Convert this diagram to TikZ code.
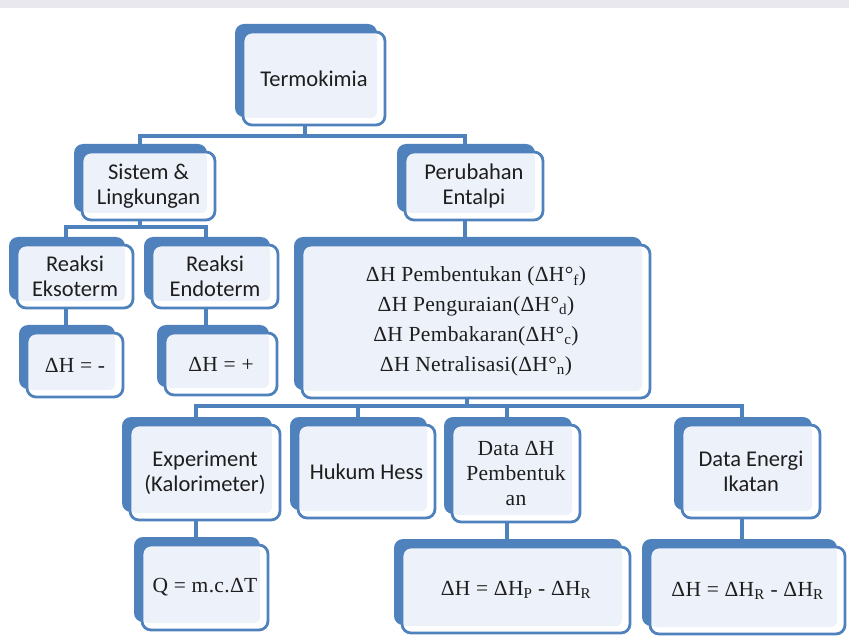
\documentclass[tikz,border=0pt]{standalone}
\usepackage{fontspec}
\newfontfamily\sansf{Carlito}
\newfontfamily\seriff[LetterSpace=1.5]{Liberation Serif}
\usetikzlibrary{shadows,backgrounds}
\definecolor{boxblue}{HTML}{4F81BD}
\definecolor{lightfill}{HTML}{EDF1F9}
\definecolor{textcol}{HTML}{1E1E1E}
\definecolor{topgray}{HTML}{E8E8EE}
\tikzset{
  tbox/.style={draw=boxblue, line width=2.8pt, rounded corners=9pt, fill=white,
    inner sep=0pt, align=center, text=textcol,
    general shadow={fill=boxblue, shadow xshift=-8pt, shadow yshift=8pt},
    path picture={\fill[lightfill, rounded corners=6pt]
      (path picture bounding box.north west) rectangle
      ([shift={(-8pt,7pt)}]path picture bounding box.south east);}},
  sanstxt/.style={font=\sansf\fontsize{22.5}{25}\selectfont},
  seriftxt/.style={font=\seriff\fontsize{21.5}{30}\selectfont},
  link/.style={draw=boxblue, line width=4pt},
}
\begin{document}
\begin{tikzpicture}[x=1pt,y=-1pt]
\useasboundingbox (0,0) rectangle (849,636);

\node[tbox, sanstxt, minimum width=142pt, minimum height=93pt] (term) at (314,78.5) {Termokimia};
\node[tbox, sanstxt, minimum width=133pt, minimum height=68pt] (sis) at (148.5,186) {Sistem \&\\Lingkungan};
\node[tbox, sanstxt, minimum width=138pt, minimum height=68pt] (per) at (474,186) {Perubahan\\Entalpi};
\node[tbox, sanstxt, minimum width=116pt, minimum height=63pt] (exo) at (75,276.5) {Reaksi\\Eksoterm};
\node[tbox, sanstxt, minimum width=126pt, minimum height=63pt] (endo) at (215,276.5) {Reaksi\\Endoterm};
\node[tbox, seriftxt, minimum width=96pt, minimum height=64pt] (dhm) at (75,365) {ΔH = -};
\node[tbox, seriftxt, minimum width=112pt, minimum height=62pt] (dhp) at (221,364) {ΔH = +};
\node[tbox, seriftxt, minimum width=348pt, minimum height=153pt] (big) at (476,321.5)
  {ΔH Pembentukan (ΔH°\textsubscript{f})\\ΔH Penguraian(ΔH°\textsubscript{d})\\ΔH Pembakaran(ΔH°\textsubscript{c})\\ΔH Netralisasi(ΔH°\textsubscript{n})};
\node[tbox, sanstxt, minimum width=150pt, minimum height=95pt] (exp) at (205,472.5) {Experiment\\(Kalorimeter)};
\node[tbox, sanstxt, minimum width=137pt, minimum height=93pt] (hess) at (366.5,471.5) {Hukum Hess};
\node[tbox, seriftxt, font=\seriff\fontsize{21.5}{25}\selectfont, minimum width=128pt, minimum height=97pt] (data) at (516,473.5) {Data ΔH\\Pembentuk\\an};
\node[tbox, sanstxt, minimum width=138pt, minimum height=93pt] (ener) at (751,471.5) {Data Energi\\Ikatan};
\node[tbox, seriftxt, minimum width=126pt, minimum height=85pt] (q) at (205,587.5) {Q = m.c.ΔT};
\node[tbox, seriftxt, minimum width=228pt, minimum height=86pt] (r1) at (516,590) {ΔH = ΔH\textsubscript{P} - ΔH\textsubscript{R}};
\node[tbox, seriftxt, minimum width=195pt, minimum height=87pt] (r2) at (747.5,590.5) {ΔH = ΔH\textsubscript{R} - ΔH\textsubscript{R}};

\begin{scope}[on background layer]
\fill[topgray] (0,0) rectangle (849,8);
\draw[link] ([xshift=-9pt]term.south) -- ++(0,12);
\draw[link] ([xshift=-9pt]sis.north) -- ++(0,-15) -| ([xshift=-9pt]per.north);
\draw[link] ([xshift=-9pt]sis.south) -- ++(0,8);
\draw[link] ([xshift=-9pt]exo.north) -- ++(0,-17) -| ([xshift=-9pt]endo.north);
\draw[link] ([xshift=-9pt]per.south) -- ++(0,25);
\draw[link] ([xshift=-9pt]exo.south) -- ([xshift=-9pt]exo.south |- dhm.north);
\draw[link] ([xshift=-9pt]endo.south) -- ([xshift=-9pt]endo.south |- dhp.north);
\draw[link] ([xshift=-9pt]big.south) -- ++(0,9);
\draw[link] ([xshift=-9pt]exp.north) -- ++(0,-18) -| ([xshift=-9pt]ener.north);
\draw[link] ([xshift=-9pt]hess.north) -- ++(0,-18);
\draw[link] ([xshift=-9pt]data.north) -- ++(0,-18);
\draw[link] ([xshift=-9pt]exp.south) -- ([xshift=-9pt]exp.south |- q.north);
\draw[link] ([xshift=-9pt]data.south) -- ([xshift=-9pt]data.south |- r1.north);
\draw[link] ([xshift=-9pt]ener.south) -- ([xshift=-9pt]ener.south |- r2.north);
\end{scope}
\end{tikzpicture}
\end{document}
